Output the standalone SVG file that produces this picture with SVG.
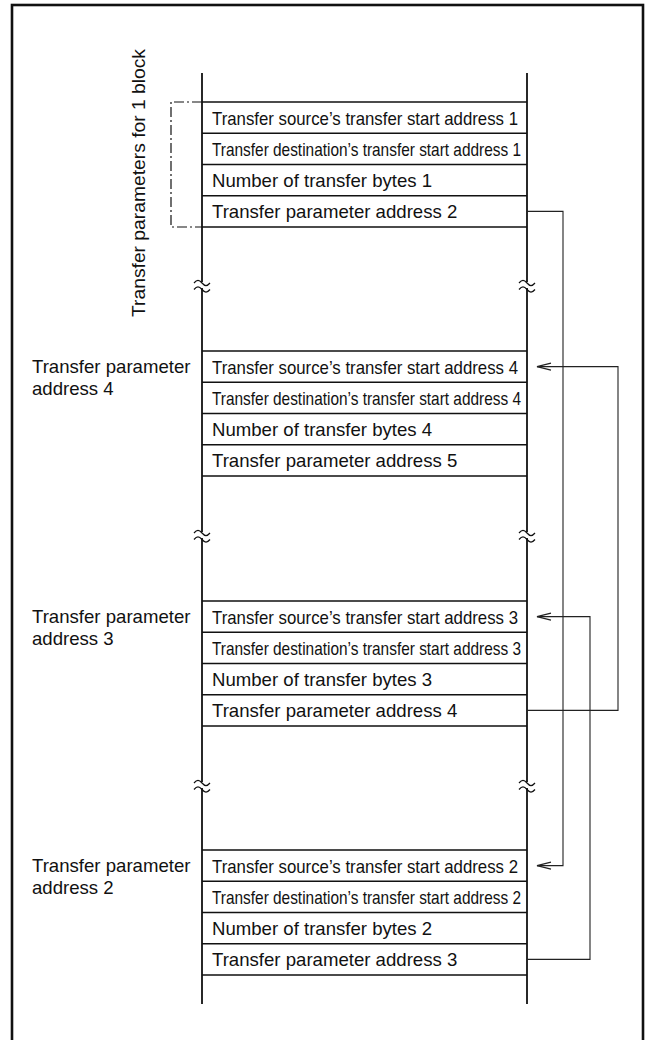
<svg xmlns="http://www.w3.org/2000/svg" width="647" height="1040" viewBox="0 0 647 1040">
<style>
text{font-family:"Liberation Sans",Arial,sans-serif;font-size:18.6px;fill:#111}
.col{stroke:#111;stroke-width:1.8;fill:none}
.row{stroke:#111;stroke-width:1.5;fill:none}
.con{stroke:#222;stroke-width:1.1;fill:none}
.brk{stroke:#111;stroke-width:1.2;fill:none}
</style>
<defs>
<marker id="arr" markerWidth="16" markerHeight="10" refX="15" refY="5" orient="auto" markerUnits="userSpaceOnUse">
<path d="M1,1.5 L15,5 L1,8.5" fill="none" stroke="#222" stroke-width="1.1"/>
</marker>
</defs>
<rect x="12" y="5" width="631" height="1100" fill="#fff" stroke="#111" stroke-width="2.6"/>

<g id="column">
<line class="col" x1="202" y1="73" x2="202" y2="1004"/>
<line class="col" x1="527" y1="73" x2="527" y2="1004"/>
<g id="breaks">
<rect x="196" y="282" width="12" height="6" fill="#fff"/>
<rect x="521" y="282" width="12" height="6" fill="#fff"/>
<rect x="196" y="532" width="12" height="6" fill="#fff"/>
<rect x="521" y="532" width="12" height="6" fill="#fff"/>
<rect x="196" y="782" width="12" height="6" fill="#fff"/>
<rect x="521" y="782" width="12" height="6" fill="#fff"/>
<path class="brk" d="M194,283 c3,-3.5 5,-3.5 8,0 s5,3.5 8,0 M194,289.5 c3,-3.5 5,-3.5 8,0 s5,3.5 8,0"/>
<path class="brk" d="M519,283 c3,-3.5 5,-3.5 8,0 s5,3.5 8,0 M519,289.5 c3,-3.5 5,-3.5 8,0 s5,3.5 8,0"/>
<path class="brk" d="M194,533 c3,-3.5 5,-3.5 8,0 s5,3.5 8,0 M194,539.5 c3,-3.5 5,-3.5 8,0 s5,3.5 8,0"/>
<path class="brk" d="M519,533 c3,-3.5 5,-3.5 8,0 s5,3.5 8,0 M519,539.5 c3,-3.5 5,-3.5 8,0 s5,3.5 8,0"/>
<path class="brk" d="M194,783 c3,-3.5 5,-3.5 8,0 s5,3.5 8,0 M194,789.5 c3,-3.5 5,-3.5 8,0 s5,3.5 8,0"/>
<path class="brk" d="M519,783 c3,-3.5 5,-3.5 8,0 s5,3.5 8,0 M519,789.5 c3,-3.5 5,-3.5 8,0 s5,3.5 8,0"/>
</g>
</g>

<g id="block1">
<path class="row" d="M202,102H527M202,133.25H527M202,164.5H527M202,195.75H527M202,227H527"/>
<text x="212" y="124.5" textLength="306" lengthAdjust="spacingAndGlyphs">Transfer source’s transfer start address 1</text>
<text x="212" y="155.75" textLength="309" lengthAdjust="spacingAndGlyphs">Transfer destination’s transfer start address 1</text>
<text x="212" y="187">Number of transfer bytes 1</text>
<text x="212" y="218.25">Transfer parameter address 2</text>
</g>

<g id="bracket">
<path d="M202,102H171V227H202" fill="none" stroke="#111" stroke-width="1.2" stroke-dasharray="10 3 2 3"/>
<text transform="translate(145,183) rotate(-90)" text-anchor="middle" textLength="268" lengthAdjust="spacingAndGlyphs">Transfer parameters for 1 block</text>
</g>

<g id="block2">
<path class="row" d="M202,351H527M202,382.25H527M202,413.5H527M202,444.75H527M202,476H527"/>
<text x="212" y="373.5" textLength="306" lengthAdjust="spacingAndGlyphs">Transfer source’s transfer start address 4</text>
<text x="212" y="404.75" textLength="309" lengthAdjust="spacingAndGlyphs">Transfer destination’s transfer start address 4</text>
<text x="212" y="436">Number of transfer bytes 4</text>
<text x="212" y="467.25">Transfer parameter address 5</text>
<text x="32" y="373">Transfer parameter</text>
<text x="32" y="395">address 4</text>
</g>

<g id="block3">
<path class="row" d="M202,601H527M202,632.25H527M202,663.5H527M202,694.75H527M202,726H527"/>
<text x="212" y="623.5" textLength="306" lengthAdjust="spacingAndGlyphs">Transfer source’s transfer start address 3</text>
<text x="212" y="654.75" textLength="309" lengthAdjust="spacingAndGlyphs">Transfer destination’s transfer start address 3</text>
<text x="212" y="686">Number of transfer bytes 3</text>
<text x="212" y="717.25">Transfer parameter address 4</text>
<text x="32" y="623">Transfer parameter</text>
<text x="32" y="645">address 3</text>
</g>

<g id="block4">
<path class="row" d="M202,850H527M202,881.25H527M202,912.5H527M202,943.75H527M202,975H527"/>
<text x="212" y="872.5" textLength="306" lengthAdjust="spacingAndGlyphs">Transfer source’s transfer start address 2</text>
<text x="212" y="903.75" textLength="309" lengthAdjust="spacingAndGlyphs">Transfer destination’s transfer start address 2</text>
<text x="212" y="935">Number of transfer bytes 2</text>
<text x="212" y="966.25">Transfer parameter address 3</text>
<text x="32" y="872">Transfer parameter</text>
<text x="32" y="894">address 2</text>
</g>

<g id="connectors">
<path class="con" d="M527,211.4H563V865.6H537" marker-end="url(#arr)"/>
<path class="con" d="M527,710.4H618V366.6H537" marker-end="url(#arr)"/>
<path class="con" d="M527,959.4H590V616.6H537" marker-end="url(#arr)"/>
</g>
</svg>
